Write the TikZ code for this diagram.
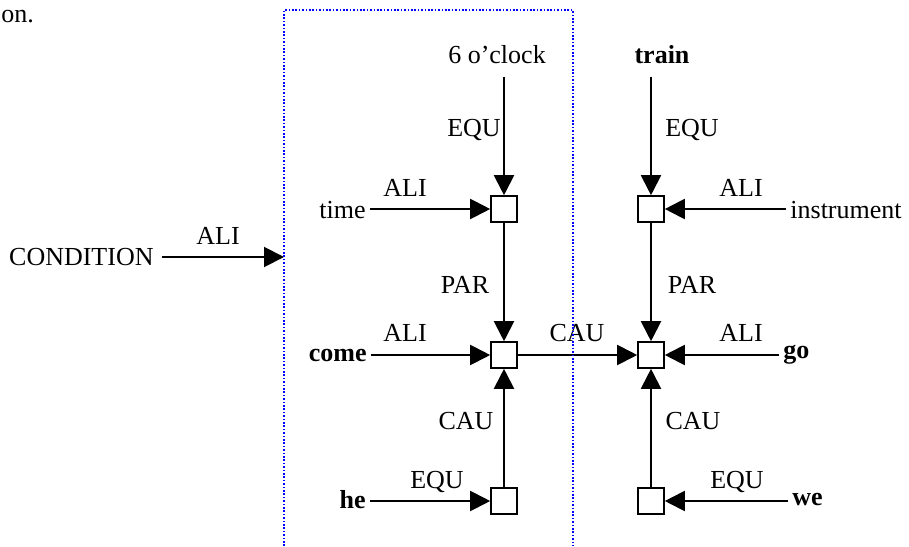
\documentclass[tikz,border=0pt]{standalone}
\usepackage{fontspec}
\setmainfont{Liberation Serif}
\usetikzlibrary{arrows.meta}
\begin{document}
\begin{tikzpicture}[x=0.5pt,y=-0.5pt,
  every node/.style={font=\fontsize{13}{15}\selectfont},
  box/.style={draw, line width=0.8pt, minimum size=13pt, inner sep=0pt, fill=white},
  word/.style={inner sep=2pt},
  bword/.style={inner sep=2pt, font=\fontsize{13}{15}\selectfont\bfseries},
  lab/.style={inner sep=0pt},
  conn/.style={line width=1pt, -{Triangle[length=10pt,width=10pt]}},
  frame/.style={blue, line width=0.8pt, dash pattern=on 0.8pt off 0.9pt}]
\useasboundingbox (0,0) rectangle (909,546);

% boxes
\node[box] (sq1) at (504,209) {};
\node[box] (sq2) at (504,355) {};
\node[box] (sq3) at (504,501) {};
\node[box] (sq4) at (651,209) {};
\node[box] (sq5) at (651,355) {};
\node[box] (sq6) at (651,501) {};

% fragment
\node[anchor=base west, inner sep=0pt] (frag) at (1,22) {on.};

% words
\node[word] (clock) at (497,55) {6 o’clock};
\node[bword] (train) at (662,55) {train};
\node[word, anchor=east] (time) at (370,210) {time};
\node[word, anchor=west] (instr) at (786,210) {instrument};
\node[bword, anchor=east] (come) at (371,355) {come};
\node[bword, anchor=west] (go) at (779,355) {go};
\node[bword, anchor=east] (he) at (370,500) {he};
\node[bword, anchor=west] (we) at (788,500) {we};
\node[word, anchor=east] (cond) at (158,257) {CONDITION};
\coordinate (boxL) at (284,257);

% connectors
\draw[conn, shorten <=4pt] (sq1 |- clock.south) -- (sq1);
\draw[conn, shorten <=4pt] (sq4 |- train.south) -- (sq4);
\draw[conn] (time.east |- sq1) -- (sq1);
\draw[conn] (instr.west |- sq4) -- (sq4);
\draw[conn] (sq1) -- (sq2);
\draw[conn] (sq4) -- (sq5);
\draw[conn] (come.east |- sq2) -- (sq2);
\draw[conn] (go.west |- sq5) -- (sq5);
\draw[conn] (sq3) -- (sq2);
\draw[conn] (sq6) -- (sq5);
\draw[conn] (he.east |- sq3) -- (sq3);
\draw[conn] (we.west |- sq6) -- (sq6);
\draw[conn] (sq2) -- (sq5);
\draw[conn, shorten <=2pt] (cond.east |- boxL) -- (boxL);

% labels
\node[lab] (l1) at (218,236) {ALI};
\node[lab] (l2) at (474,130) {EQU};
\node[lab] (l3) at (405,188) {ALI};
\node[lab] (l4) at (465,285) {PAR};
\node[lab] (l5) at (405,333) {ALI};
\node[lab] (l6) at (577,333) {CAU};
\node[lab] (l7) at (466,421) {CAU};
\node[lab] (l8) at (437,482) {EQU};
\node[lab] (r1) at (692,130) {EQU};
\node[lab] (r2) at (741,188) {ALI};
\node[lab] (r3) at (692,285) {PAR};
\node[lab] (r4) at (741,333) {ALI};
\node[lab] (r5) at (693,421) {CAU};
\node[lab] (r6) at (737,482) {EQU};

% dotted frame
\draw[frame] (284,546) -- (284,10) -- (573,10) -- (573,546);
\end{tikzpicture}
\end{document}
